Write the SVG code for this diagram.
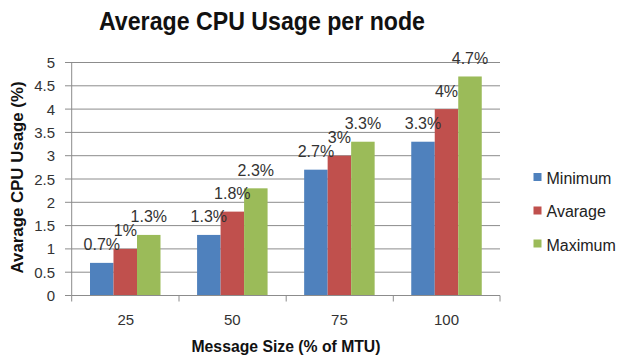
<svg xmlns="http://www.w3.org/2000/svg" width="624" height="356" viewBox="0 0 624 356">
<style>
  .bg{fill:#ffffff}
  .grid{stroke:#8c8c8c;stroke-width:1;fill:none}
  .axis{stroke:#8c8c8c;stroke-width:1;fill:none}
  .tick{font-family:"Liberation Sans",Arial,sans-serif;font-size:15px;fill:#333333}
  .lbl{font-family:"Liberation Sans",Arial,sans-serif;font-size:16px;fill:#333333;text-anchor:middle}
  .title{font-family:"Liberation Sans",Arial,sans-serif;font-weight:bold;fill:#111111;text-anchor:middle}
  .leg{font-family:"Liberation Sans",Arial,sans-serif;font-size:16px;fill:#222222}
  .min{fill:#4F81BD}
  .avg{fill:#C0504D}
  .max{fill:#9BBB59}
</style>
<rect class="bg" x="0" y="0" width="624" height="356"/>

<g id="chart-title">
  <text class="title" x="262" y="29.5" font-size="26" textLength="326" lengthAdjust="spacingAndGlyphs">Average CPU Usage per node</text>
</g>

<g id="gridlines">
  <path class="grid" d="M65 272.2H500M65 248.9H500M65 225.6H500M65 202.3H500M65 179H500M65 155.7H500M65 132.4H500M65 109.1H500M65 85.8H500M65 62.5H500"/>
</g>

<g id="y-axis">
  <path class="axis" d="M71.7 62.5V295.5M65 295.5H71.7"/>
  <g class="tick" text-anchor="end">
    <text x="55" y="301">0</text>
    <text x="55" y="277.7">0.5</text>
    <text x="55" y="254.4">1</text>
    <text x="55" y="231.1">1.5</text>
    <text x="55" y="207.8">2</text>
    <text x="55" y="184.5">2.5</text>
    <text x="55" y="161.2">3</text>
    <text x="55" y="137.9">3.5</text>
    <text x="55" y="114.6">4</text>
    <text x="55" y="91.3">4.5</text>
    <text x="55" y="68">5</text>
  </g>
  <text class="title" font-size="17" transform="translate(23 177.5) rotate(-90)" x="0" y="0" textLength="192" lengthAdjust="spacingAndGlyphs">Avarage CPU Usage (%)</text>
</g>

<g id="series-minimum">
  <rect class="min" x="90" y="262.88" width="23.5" height="32.62"/>
  <rect class="min" x="197.08" y="234.92" width="23.5" height="60.58"/>
  <rect class="min" x="304.15" y="169.68" width="23.5" height="125.82"/>
  <rect class="min" x="411.25" y="141.72" width="23.5" height="153.78"/>
</g>
<g id="series-average">
  <rect class="avg" x="113.5" y="248.9" width="23.5" height="46.6"/>
  <rect class="avg" x="220.58" y="211.62" width="23.5" height="83.88"/>
  <rect class="avg" x="327.65" y="155.7" width="23.5" height="139.8"/>
  <rect class="avg" x="434.75" y="109.1" width="23.5" height="186.4"/>
</g>
<g id="series-maximum">
  <rect class="max" x="137" y="234.92" width="23.5" height="60.58"/>
  <rect class="max" x="244.08" y="188.32" width="23.5" height="107.18"/>
  <rect class="max" x="351.15" y="141.72" width="23.5" height="153.78"/>
  <rect class="max" x="458.25" y="76.48" width="23.5" height="219.02"/>
</g>

<g id="data-labels">
  <text class="lbl" x="101.8" y="250.4">0.7%</text>
  <text class="lbl" x="125.3" y="236.4">1%</text>
  <text class="lbl" x="148.8" y="222.4">1.3%</text>
  <text class="lbl" x="208.8" y="222.4">1.3%</text>
  <text class="lbl" x="232.3" y="199.1">1.8%</text>
  <text class="lbl" x="255.8" y="175.8">2.3%</text>
  <text class="lbl" x="315.9" y="157.2">2.7%</text>
  <text class="lbl" x="339.4" y="143.2">3%</text>
  <text class="lbl" x="362.9" y="129.2">3.3%</text>
  <text class="lbl" x="423" y="129.2">3.3%</text>
  <text class="lbl" x="446.5" y="96.6">4%</text>
  <text class="lbl" x="470" y="64">4.7%</text>
</g>

<g id="x-axis">
  <path class="axis" d="M71.7 295.5H500M71.7 295.5V301.5M179 295.5V301.5M286.2 295.5V301.5M393.3 295.5V301.5M500 295.5V301.5"/>
  <g class="tick" text-anchor="middle">
    <text x="125.8" y="325">25</text>
    <text x="232.3" y="325">50</text>
    <text x="339.4" y="325">75</text>
    <text x="446.5" y="325">100</text>
  </g>
  <text class="title" font-size="17" x="286" y="352" textLength="189" lengthAdjust="spacingAndGlyphs">Message Size (% of MTU)</text>
</g>

<g id="legend">
  <g id="legend-minimum">
    <rect class="min" x="533.5" y="173" width="8" height="8"/>
    <text class="leg" x="546.5" y="184">Minimum</text>
  </g>
  <g id="legend-average">
    <rect class="avg" x="533.5" y="206.5" width="8" height="8"/>
    <text class="leg" x="546.5" y="217">Avarage</text>
  </g>
  <g id="legend-maximum">
    <rect class="max" x="533.5" y="239.5" width="8" height="8"/>
    <text class="leg" x="546.5" y="250.5">Maximum</text>
  </g>
</g>
</svg>
